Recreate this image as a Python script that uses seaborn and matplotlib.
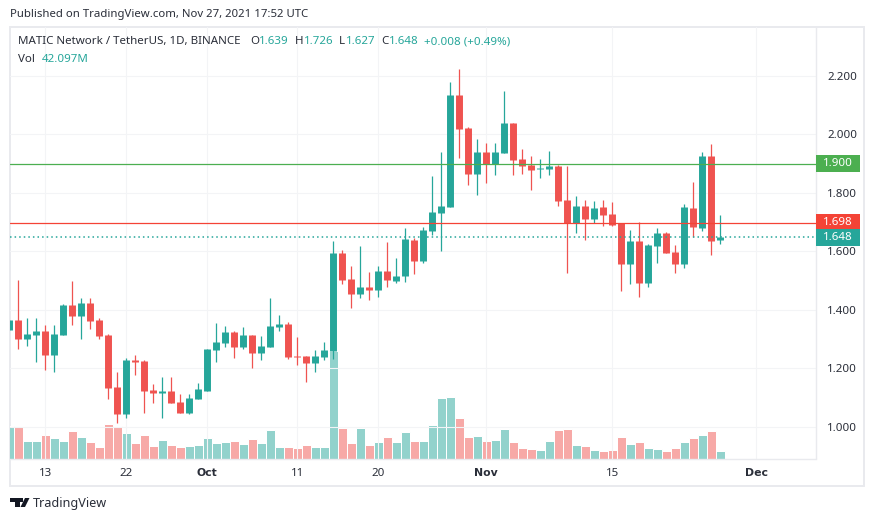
import matplotlib
matplotlib.use("Agg")
import matplotlib.pyplot as plt
from matplotlib.patches import Rectangle, Polygon
from matplotlib.transforms import blended_transform_factory
import pandas as pd
import seaborn as sns

opens = [1.332, 1.366, 1.301, 1.315, 1.328, 1.246, 1.315, 1.417, 1.380, 1.424, 1.366, 1.315, 1.137, 1.045, 1.229, 1.226,
         1.127, 1.116, 1.123, 1.086, 1.048, 1.096, 1.123, 1.263, 1.287, 1.325,
         1.273, 1.314, 1.253, 1.273, 1.342, 1.352, 1.243, 1.243, 1.219, 1.239, 1.260, 1.595, 1.506, 1.455, 1.479, 1.468,
         1.533, 1.499, 1.516, 1.639, 1.568, 1.670, 1.732, 1.753, 2.135, 2.022, 1.865,
         1.940, 1.898, 1.938, 2.039, 1.916, 1.896, 1.882, 1.882, 1.892, 1.776, 1.696, 1.756, 1.711, 1.752, 1.728,
         1.696, 1.557, 1.636, 1.492, 1.619, 1.663, 1.598, 1.557, 1.749, 1.680, 1.926, 1.639]
highs = [1.366, 1.503, 1.374, 1.374, 1.349, 1.349, 1.421, 1.499, 1.441, 1.441, 1.374, 1.318, 1.188, 1.236, 1.246, 1.229,
         1.147, 1.170, 1.172, 1.113, 1.113, 1.152, 1.267, 1.357, 1.347, 1.328,
         1.343, 1.314, 1.311, 1.442, 1.384, 1.359, 1.309, 1.243, 1.263, 1.291, 1.637, 1.605, 1.550, 1.619, 1.530, 1.550,
         1.632, 1.578, 1.680, 1.646, 1.685, 1.858, 1.939, 2.181, 2.223, 2.027, 1.985,
         1.972, 1.972, 2.150, 2.039, 1.952, 1.926, 1.917, 1.945, 1.895, 1.892, 1.790, 1.776, 1.774, 1.776, 1.769,
         1.696, 1.673, 1.700, 1.625, 1.680, 1.667, 1.623, 1.762, 1.839, 1.940, 1.968, 1.726]
lows = [1.332, 1.266, 1.277, 1.221, 1.195, 1.188, 1.315, 1.349, 1.301, 1.335, 1.301, 1.095, 1.014, 1.031, 1.178, 1.047,
        1.081, 1.031, 1.081, 1.048, 1.045, 1.096, 1.123, 1.221, 1.273, 1.235,
        1.267, 1.202, 1.229, 1.273, 1.328, 1.232, 1.212, 1.154, 1.188, 1.229, 1.231, 1.489, 1.407, 1.441, 1.434, 1.444,
        1.479, 1.492, 1.496, 1.523, 1.561, 1.656, 1.602, 1.753, 1.918, 1.827, 1.793,
        1.833, 1.862, 1.938, 1.862, 1.865, 1.810, 1.851, 1.862, 1.756, 1.528, 1.663, 1.639, 1.696, 1.687, 1.687,
        1.465, 1.489, 1.446, 1.480, 1.561, 1.595, 1.525, 1.544, 1.649, 1.670, 1.588, 1.627]
closes = [1.366, 1.301, 1.318, 1.328, 1.246, 1.318, 1.417, 1.380, 1.424, 1.363, 1.311, 1.134, 1.045, 1.229, 1.222, 1.123,
          1.116, 1.123, 1.082, 1.048, 1.099, 1.130, 1.267, 1.291, 1.325, 1.274,
          1.314, 1.253, 1.277, 1.345, 1.352, 1.239, 1.239, 1.219, 1.243, 1.263, 1.595, 1.503, 1.455, 1.479, 1.468, 1.533,
          1.503, 1.516, 1.643, 1.568, 1.673, 1.735, 1.756, 2.135, 2.019, 1.865, 1.940,
          1.898, 1.940, 2.039, 1.913, 1.892, 1.879, 1.885, 1.892, 1.773, 1.696, 1.756, 1.711, 1.749, 1.725, 1.691,
          1.557, 1.636, 1.492, 1.622, 1.663, 1.595, 1.557, 1.752, 1.684, 1.926, 1.636, 1.648]
volumes = [179, 173, 97, 97, 130, 113, 97, 152, 119, 91, 64, 190, 179, 141, 86, 130,
           69, 102, 75, 64, 69, 75, 113, 86, 91, 97,
           80, 108, 86, 157, 64, 64, 59, 75, 64, 64, 589, 168, 86, 168, 75, 91,
           119, 91, 146, 97, 97, 184, 332, 338, 223, 119, 124,
           97, 102, 162, 91, 59, 53, 48, 97, 157, 162, 75, 69, 48, 42, 48,
           119, 80, 91, 59, 53, 42, 59, 91, 113, 130, 152, 42]

first_day = "2021-09-09"
tick_dates = ["2021-09-13", "2021-09-22", "2021-10-01", "2021-10-11", "2021-10-20", "2021-11-01", "2021-11-15", "2021-12-01"]
tick_labels = ["13", "22", "Oct", "11", "20", "Nov", "15", "Dec"]
bold_labels = ["Oct", "Nov", "Dec"]
price_ticks = [1.0, 1.2, 1.4, 1.6, 1.8, 2.0, 2.2]

UP = "#26a69a"
DOWN = "#ef5350"
UP_VOL = "#92d2cc"
DOWN_VOL = "#f7a9a7"
FRAME = "#e9eaee"
GRID = "#f3f4f6"
TEXT = "#2a2e39"
W, H = 874, 521

sns.set_style("white")
plt.rcParams["font.family"] = ["Noto Sans", "DejaVu Sans"]

df = pd.DataFrame({"date": pd.date_range(first_day, periods=len(opens)),
                   "open": opens, "high": highs, "low": lows, "close": closes, "vol": volumes})
df["day"] = (df["date"] - pd.Timestamp(first_day)).dt.days
df["dir"] = ["up" if c >= o else "down" for o, c in zip(df["open"], df["close"])]

wicks = df.melt(id_vars=["day", "dir"], value_vars=["high", "low"], value_name="price")
bodies = df.melt(id_vars=["day", "dir"], value_vars=["open", "close"], value_name="price")

fig = plt.figure(figsize=(W / 100, H / 100), dpi=100)
ax = fig.add_axes([10 / W, 1 - 458.5 / H, 806 / W, 431.5 / H])
vol_ax = ax.twinx()
ax.set_zorder(2)
vol_ax.set_zorder(1)
ax.patch.set_visible(False)

sns.barplot(data=df, x="day", y="vol", hue="dir", palette={"up": UP_VOL, "down": DOWN_VOL},
            native_scale=True, dodge=False, width=1.0, gap=0, saturation=1, legend=False, ax=vol_ax)
# white edges leave the one pixel gap between volume bars
for bar in vol_ax.patches:
    bar.set_edgecolor("white")
    bar.set_linewidth(0.72)
sns.lineplot(data=wicks, x="day", y="price", hue="dir", units="day", estimator=None,
             palette={"up": UP, "down": DOWN}, linewidth=0.9, legend=False, ax=ax, solid_capstyle="butt")
sns.lineplot(data=bodies, x="day", y="price", hue="dir", units="day", estimator=None,
             palette={"up": UP, "down": DOWN}, linewidth=5.0, legend=False, ax=ax, solid_capstyle="butt")

tick_pos = [(pd.Timestamp(d) - pd.Timestamp(first_day)).days for d in tick_dates]
x_range = (4 - 35.3 / 9, 4 + (816 - 45.3) / 9)
ax.set_xlim(*x_range)
vol_ax.set_xlim(*x_range)
ax.set_ylim(2.2 - 382.5 / 292.5, 2.2 + 49 / 292.5)
vol_ax.set_ylim(0, 431.5 * 5.47)

vol_ax.axis("off")
ax.set_xlabel("")
ax.set_ylabel("")
ax.set_xticks(tick_pos)
ax.set_xticklabels(tick_labels, fontsize=8.3, color=TEXT)
for lab in ax.get_xticklabels():
    if lab.get_text() in bold_labels:
        lab.set_family("DejaVu Sans")
        lab.set_fontweight("bold")
        lab.set_fontsize(7.8)
ax.set_yticks(price_ticks)
ax.set_yticklabels([f"{p:.3f}" for p in price_ticks], fontsize=8.3, color=TEXT)
ax.yaxis.tick_right()
ax.tick_params(axis="y", length=0, pad=8)
ax.tick_params(axis="x", length=0, pad=7)
ax.grid(True, color=GRID, linewidth=0.8)
ax.set_axisbelow(True)
for name, spine in ax.spines.items():
    spine.set_color(FRAME)
    spine.set_linewidth(1)
    spine.set_visible(name in ("right", "bottom"))

# price lines and their badges on the scale
levels = [(1.900, "#4caf50", "-", 0.9, "1.900"), (1.698, "#f44336", "-", 0.9, "1.698"),
          (1.648, UP, (0, (1, 2)), 1.1, "1.648")]
tr = blended_transform_factory(ax.transAxes, ax.transData)
for price, color, style, lw, label in levels:
    ax.axhline(price, color=color, linewidth=lw, linestyle=style, zorder=4)
    ax.add_patch(Rectangle((1, price - 8.6 / 292.5), 44 / 806, 17.2 / 292.5, transform=tr,
                           facecolor=color, edgecolor="none", clip_on=False, zorder=5))
    ax.text(1 + 22 / 806, price, label, transform=tr, color="white", fontsize=8.3,
            ha="center", va="center", zorder=6, clip_on=False)

# outer frame
fig.add_artist(Rectangle((10 / W, 1 - 486 / H), 854 / W, 459 / H, transform=fig.transFigure,
                         facecolor="none", edgecolor=FRAME, linewidth=1.4))


def put(x, y, s, color=TEXT, size=8.3, **kw):
    fig.text(x / W, 1 - y / H, s, color=color, fontsize=size, va="center", **kw)


put(10, 14.5, "Published on TradingView.com, Nov 27, 2021 17:52 UTC", size=8.2)
put(18, 41.5, "MATIC Network / TetherUS, 1D, BINANCE", size=8.3)
for x, s, c in [(250, "O", TEXT), (259, "1.639", UP), (295, "H", TEXT), (304, "1.726", UP), (339, "L", TEXT),
                (346, "1.627", UP), (381, "C", TEXT), (389, "1.648", UP), (424, "+0.008 (+0.49%)", UP)]:
    put(x, 41.5, s, color=c, size=8.3)
put(18, 59, "Vol", size=8.3)
put(42, 59, "42.097M", color=UP, size=8.3)

# logo and wordmark
logo = [[(10, 498), (19.5, 498), (19.5, 507), (14.7, 507), (14.7, 501.8), (10, 501.8)],
        [(25, 498), (29.5, 498), (25, 507), (20.5, 507)],
        [(20.3, 498), (23.3, 498), (23.3, 501.6), (20.3, 501.6)]]
to_fig = lambda pts: [(x / W, 1 - y / H) for x, y in pts]
for pts in logo:
    fig.add_artist(Polygon(to_fig(pts), closed=True, transform=fig.transFigure, facecolor="#131722", edgecolor="none"))
put(33, 503, "TradingView", size=9.1)

fig.savefig("out.png", dpi=100)
